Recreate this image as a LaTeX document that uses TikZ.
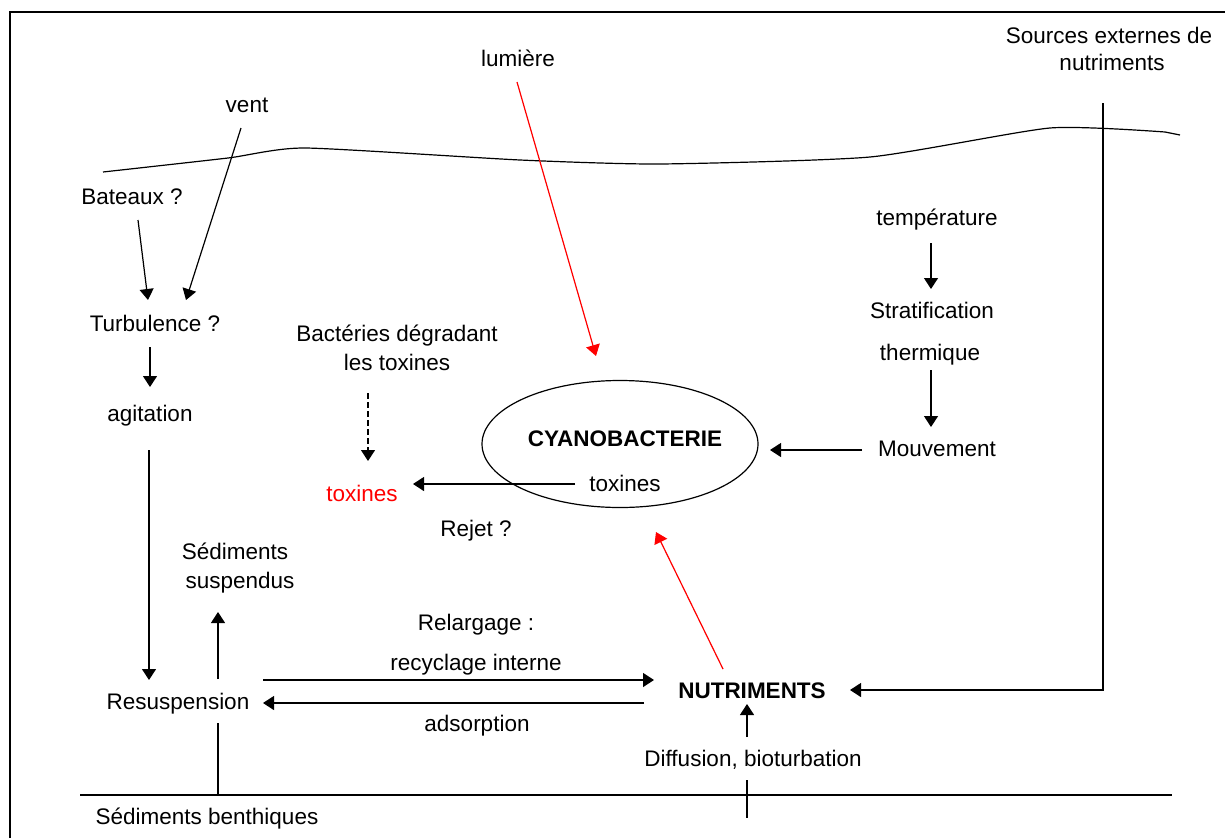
\documentclass[tikz,border=0pt]{standalone}
\usepackage{fontspec}
\setmainfont{Liberation Sans}
\usetikzlibrary{arrows.meta,shapes.geometric}
\begin{document}
\begin{tikzpicture}[x=1pt,y=-1pt,
  lbl/.style={inner sep=0pt, text height=16pt, text depth=0pt, font=\fontsize{22.5}{27}\selectfont},
  blbl/.style={lbl, font=\fontsize{22.5}{27}\selectfont\bfseries},
  redlbl/.style={lbl, text=red},
  ln/.style={line width=1.2pt},
  arr/.style={line width=1.2pt, -{Triangle[length=11pt,width=14pt]}},
  redarr/.style={arr, draw=red, fill=red},
  dasharr/.style={arr, dash pattern=on 6pt off 3pt}]
\useasboundingbox (0,0) rectangle (1225,838);
% frame
\draw[line width=1.8pt] (10,838) -- (10,12) -- (1225,12);
% water surface
\draw[ln] plot[smooth, tension=0.35] coordinates {(103,172) (228,158) (305,148) (520,160) (660,164) (870,157) (1050,128) (1165,132)} -- (1180,135);
% bottom line
\coordinate (bl1) at (80,795);
\coordinate (bl2) at (1172,795);
\draw[ln] (bl1) -- (bl2);

% labels
\node[lbl] (lum) at (518,58) {lumière};
\node[lbl] (src1) at (1109,35) {Sources externes de};
\node[lbl] (src2) at (1112,62) {nutriments};
\node[lbl] (vent) at (247,104) {vent};
\node[lbl] (bat) at (132,196) {Bateaux ?};
\node[lbl] (turb) at (155,323) {Turbulence ?};
\node[lbl] (agit) at (150,413) {agitation};
\node[lbl] (bact1) at (397,333) {Bactéries dégradant};
\node[lbl] (bact2) at (397,362) {les toxines};
\node[lbl] (temp) at (937,217) {température};
\node[lbl] (strat1) at (932,310) {Stratification};
\node[lbl] (strat2) at (930,352) {thermique};
\node[lbl] (mouv) at (937,448) {Mouvement};
\node[draw, ellipse, line width=1.2pt, minimum width=276pt, minimum height=127pt, inner sep=0pt] (cy) at (620,444) {};
\node[blbl] (cyano) at (625,438) {CYANOBACTERIE};
\node[lbl] (tox) at (625,483) {toxines};
\node[redlbl] (rtox) at (362,493) {toxines};
\node[lbl] (rejet) at (476,528) {Rejet ?};
\node[lbl] (sedsus1) at (235,551) {Sédiments};
\node[lbl] (sedsus2) at (240,580) {suspendus};
\node[lbl] (relarg) at (476,622) {Relargage :};
\node[lbl] (recyc) at (476,662) {recyclage interne};
\node[lbl] (adsor) at (477,723) {adsorption};
\node[lbl] (resus) at (178,701) {Resuspension};
\node[blbl] (nutr) at (752,690) {NUTRIMENTS};
\node[lbl] (diff) at (753,758) {Diffusion, bioturbation};
\node[lbl] (sedb) at (207,816) {Sédiments benthiques};

% connector end points
\coordinate (batS) at (138,220);
\coordinate (ventS) at (241,128);
\coordinate (turbT1) at (148,300);
\coordinate (turbT2) at (186,300);
\coordinate (turbS) at (150,347);
\coordinate (agitN) at (150,387);
\coordinate (agitS) at (149,450);
\coordinate (resusN) at (149,680);
\coordinate (resusUp) at (218,679);
\coordinate (sedsusS) at (218,612);
\coordinate (sedbTop) at (218,795);
\coordinate (resusBot) at (218,723);
\coordinate (resusE1) at (263,680);
\coordinate (nutrW1) at (654,680);
\coordinate (nutrW2) at (644,703);
\coordinate (resusE2) at (263,703);
\coordinate (diffN) at (747,737);
\coordinate (nutrS) at (747,704);
\coordinate (diffS1) at (747,780);
\coordinate (diffS2) at (747,818);
\coordinate (srcTop) at (1103,103);
\coordinate (srcCorner) at (1103,690);
\coordinate (nutrE) at (850,690);
\coordinate (lumS) at (517,82);
\coordinate (cyN) at (596,356);
\coordinate (nutrN) at (723,669);
\coordinate (cyS) at (656,532);
\coordinate (bactS) at (368,393);
\coordinate (rtoxN) at (368,461);
\coordinate (toxW) at (575,484);
\coordinate (rtoxE) at (413,484);
\coordinate (tempS) at (931,243);
\coordinate (stratN) at (931,289);
\coordinate (stratS) at (931,370);
\coordinate (mouvN) at (931,427);
\coordinate (mouvW) at (862,450);
\coordinate (cyE) at (770,450);

% connectors
\draw[arr] (batS) -- (turbT1);
\draw[arr] (ventS) -- (turbT2);
\draw[arr] (turbS) -- (agitN);
\draw[arr] (agitS) -- (resusN);
\draw[arr] (resusUp) -- (sedsusS);
\draw[ln] (sedbTop) -- (resusBot);
\draw[arr] (resusE1) -- (nutrW1);
\draw[arr] (nutrW2) -- (resusE2);
\draw[arr] (diffN) -- (nutrS);
\draw[ln] (diffS1) -- (diffS2);
\draw[arr] (srcTop) -- (srcCorner) -- (nutrE);
\draw[redarr] (lumS) -- (cyN);
\draw[redarr] (nutrN) -- (cyS);
\draw[dasharr] (bactS) -- (rtoxN);
\draw[arr] (toxW) -- (rtoxE);
\draw[arr] (tempS) -- (stratN);
\draw[arr] (stratS) -- (mouvN);
\draw[arr] (mouvW) -- (cyE);
\end{tikzpicture}
\end{document}
